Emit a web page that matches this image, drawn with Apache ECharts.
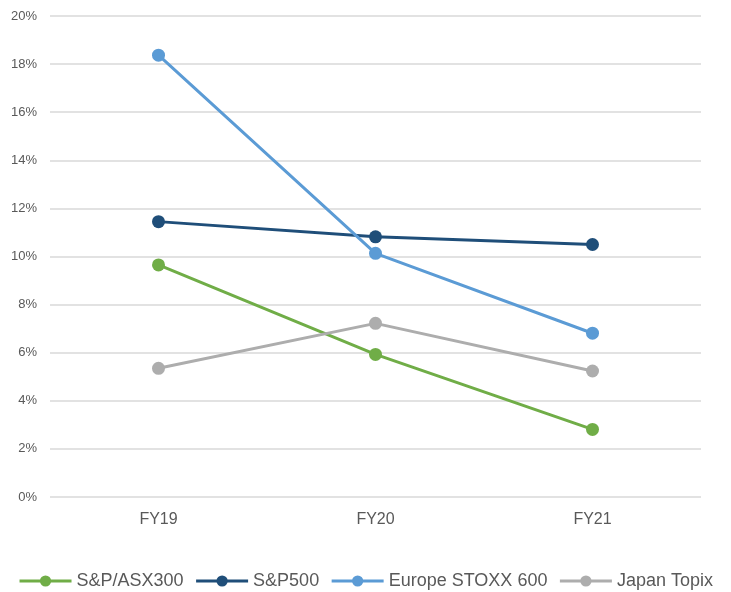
<!DOCTYPE html>
<html>
<head>
<meta charset="utf-8">
<script src="https://cdn.jsdelivr.net/npm/echarts@6/dist/echarts.min.js"></script>
<style>
  html, body { margin: 0; padding: 0; background: #ffffff; }
  #chart { width: 731px; height: 592px; }
</style>
</head>
<body>
<div id="chart"></div>
<script>
// Financial years on the category axis
const categories = ['FY19', 'FY20', 'FY21'];

// Index returns per year, in percent
const asx300 = [9.65, 5.93, 2.81];
const sp500 = [11.45, 10.82, 10.5];
const stoxx600 = [18.37, 10.13, 6.81];
const topix = [5.35, 7.22, 5.24];

const seriesNames = ['S&P/ASX300', 'S&P500', 'Europe STOXX 600', 'Japan Topix'];
const seriesData = [asx300, sp500, stoxx600, topix];
const seriesColors = ['#70AD47', '#1F4E79', '#5B9BD5', '#ADADAD'];

const chart = echarts.init(document.getElementById('chart'), null, { renderer: 'canvas' });

chart.setOption({
  animation: false,
  backgroundColor: '#ffffff',
  textStyle: { fontFamily: 'Liberation Sans, Arial, sans-serif' },
  grid: { left: 50, right: 30, top: 16, bottom: 95, containLabel: false },
  legend: {
    top: 567,
    left: 'center',
    itemWidth: 52,
    itemHeight: 14,
    itemGap: 11,
    lineStyle: { width: 3 },
    textStyle: { fontSize: 18, color: '#595959' },
    data: seriesNames
  },
  xAxis: {
    type: 'category',
    data: categories,
    boundaryGap: true,
    axisLine: { show: false },
    axisTick: { show: false },
    axisLabel: { fontSize: 16, color: '#595959', margin: 15 }
  },
  yAxis: {
    type: 'value',
    min: 0,
    max: 20,
    interval: 2,
    axisLine: { show: false },
    axisTick: { show: false },
    axisLabel: { fontSize: 13, color: '#595959', margin: 13, formatter: '{value}%' },
    splitLine: { lineStyle: { color: '#D9D9D9', width: 1.5 } }
  },
  series: seriesNames.map((name, i) => ({
    name: name,
    type: 'line',
    data: seriesData[i],
    symbol: 'circle',
    symbolSize: 13,
    lineStyle: { color: seriesColors[i], width: 3 },
    itemStyle: { color: seriesColors[i] }
  }))
});
</script>
</body>
</html>
